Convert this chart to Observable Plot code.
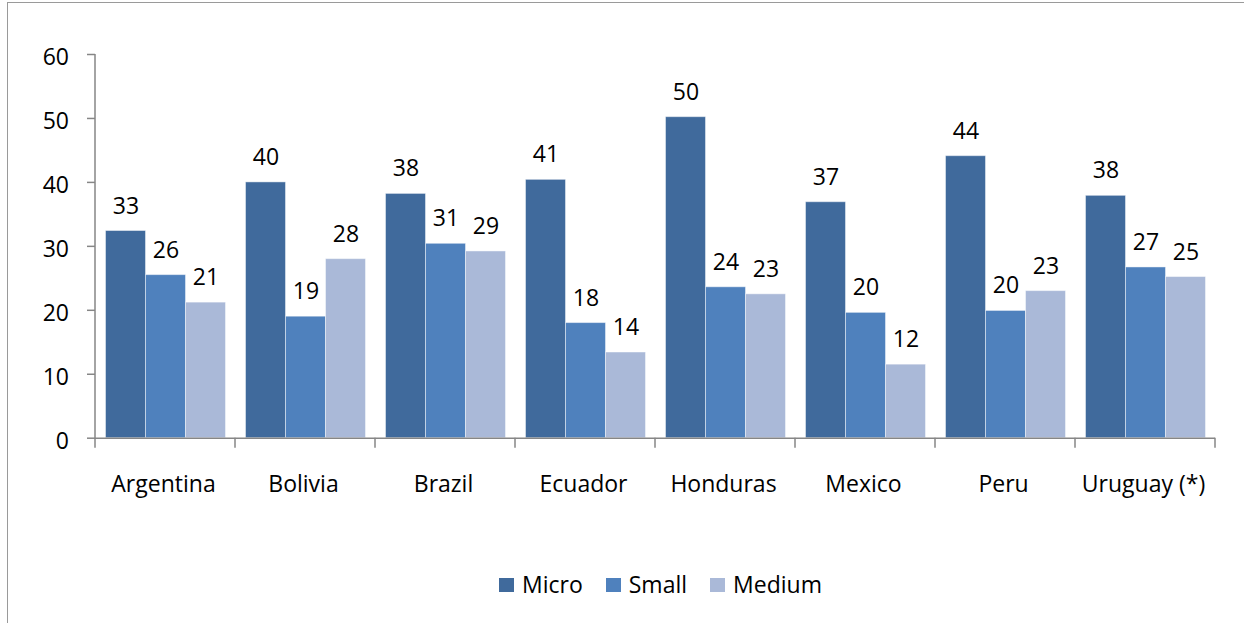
<!DOCTYPE html>
<html>
<head>
<meta charset="utf-8">
<script src="https://cdn.jsdelivr.net/npm/d3@7"></script>
<script src="https://cdn.jsdelivr.net/npm/@observablehq/plot@0.6"></script>
<style>
  html, body { margin: 0; padding: 0; background: #fff; }
  body { width: 1244px; height: 623px; overflow: hidden; position: relative; font-family: "Open Sans", sans-serif; }
  #frame { position: absolute; left: 7px; top: 2px; width: 1400px; height: 800px; border: 1.5px solid #9a9a9a; box-sizing: border-box; }
  #chart { position: absolute; left: 0; top: 0; }
  #legend { position: absolute; left: 499px; top: 573px; display: flex; align-items: center; font-size: 23px; line-height: 23px; color: #000; }
  .item { display: flex; align-items: center; margin-right: 23px; }
  .sw { width: 15px; height: 14px; margin-right: 8px; display: inline-block; }
</style>
</head>
<body>
<div id="frame"></div>
<div id="chart"></div>
<div id="legend"></div>
<script>
const countries = ["Argentina", "Bolivia", "Brazil", "Ecuador", "Honduras", "Mexico", "Peru", "Uruguay (*)"];
const series = ["Micro", "Small", "Medium"];
const colors = ["#406A9C", "#4F81BD", "#AAB9D8"];
const micro = [32.4, 40.0, 38.2, 40.4, 50.2, 36.9, 44.1, 37.9];
const small = [25.5, 19.0, 30.4, 18.0, 23.6, 19.6, 19.9, 26.7];
const medium = [21.2, 28.0, 29.2, 13.4, 22.5, 11.5, 23.0, 25.2];
const microLabels = [33, 40, 38, 41, 50, 37, 44, 38];
const smallLabels = [26, 19, 31, 18, 24, 20, 20, 27];
const mediumLabels = [21, 28, 29, 14, 23, 12, 23, 25];
const yTicks = [0, 10, 20, 30, 40, 50, 60];

const valuesBySeries = [micro, small, medium];
const labelsBySeries = [microLabels, smallLabels, mediumLabels];
const rows = [];
countries.forEach((c, i) => {
  series.forEach((s, j) => {
    rows.push({country: c, series: s, value: valuesBySeries[j][i], label: String(labelsBySeries[j][i])});
  });
});

const axisColor = "#868686";
const chart = Plot.plot({
  width: 1244,
  height: 520,
  marginLeft: 91.5,
  marginRight: 26.5,
  marginTop: 54,
  marginBottom: 82.3,
  style: {fontFamily: "Open Sans", fontSize: "23px", color: "#000", background: "transparent", overflow: "visible"},
  fx: {domain: countries, padding: 0, label: null},
  x: {domain: series, paddingInner: 0, paddingOuter: 0.245, axis: null},
  y: {domain: [0, 60], ticks: yTicks, label: null},
  color: {domain: series, range: colors},
  marks: [
    Plot.barY(rows, {fx: "country", x: "series", y: "value", fill: "series", stroke: "#ffffff", strokeOpacity: 0.45, strokeWidth: 1}),
    Plot.text(rows, {fx: "country", x: "series", y: "value", text: "label", dy: -17.5, lineAnchor: "bottom", fontSize: 23, fill: "#000"}),
    Plot.ruleY([0], {stroke: axisColor, strokeWidth: 1.5}),
    Plot.axisY({ticks: yTicks, tickSize: 8, tickFormat: () => "", stroke: axisColor, strokeWidth: 1.5, label: null}),
    Plot.axisY({ticks: yTicks, tickSize: 0, tickPadding: 26.5, dy: 3, label: null, fontSize: 23, fill: "#000"}),
    Plot.axisFx({anchor: "bottom", tickSize: 0, tickPadding: 37, dx: -2, label: null, fontSize: 23, fill: "#000"})
  ]
});
document.getElementById("chart").appendChild(chart);

// axis line and group boundary ticks from the chart's own scales
const fxS = chart.scale("fx");
const yS = chart.scale("y");
const svg = d3.select(chart);
const g = svg.append("g").attr("stroke", axisColor).attr("stroke-width", 1.5);
const y0 = yS.apply(0), yTop = yS.apply(60);
const left = fxS.apply(countries[0]);
g.append("line").attr("x1", left).attr("x2", left).attr("y1", y0 + 10).attr("y2", yTop);
countries.forEach(c => {
  const xr = fxS.apply(c) + fxS.bandwidth;
  g.append("line").attr("x1", xr).attr("x2", xr).attr("y1", y0).attr("y2", y0 + 10);
});

// legend
const legend = document.getElementById("legend");
series.forEach((s, i) => {
  const item = document.createElement("div");
  item.className = "item";
  const sw = document.createElement("span");
  sw.className = "sw";
  sw.style.background = colors[i];
  const t = document.createElement("span");
  t.textContent = s;
  item.appendChild(sw);
  item.appendChild(t);
  legend.appendChild(item);
});
</script>
</body>
</html>
